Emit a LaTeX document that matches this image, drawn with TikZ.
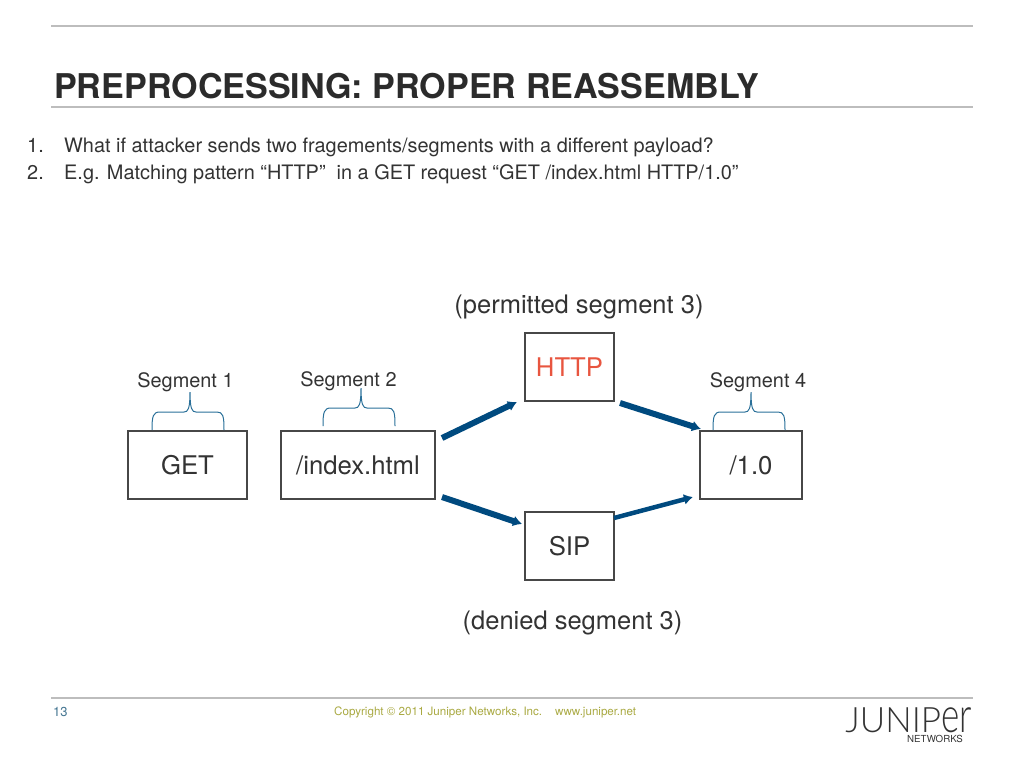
\documentclass[tikz,border=0pt]{standalone}
\usepackage{fontspec}
\setmainfont{TeX Gyre Heros}
\newfontfamily\logofont{Lato Light}
\usetikzlibrary{arrows.meta, positioning}
\definecolor{grisTexto}{HTML}{333333}
\definecolor{grisLinea}{HTML}{BDBDBD}
\definecolor{azulFlecha}{HTML}{004A7F}
\definecolor{azulLlave}{HTML}{2A7099}
\definecolor{rojoHttp}{HTML}{E8553F}
\definecolor{olivaPie}{HTML}{A9A942}
\tikzset{
  cajaBase/.style={
    draw=grisTexto!90, line width=1.1pt,
    minimum height=68pt, minimum width=89pt, inner sep=0pt, outer sep=0pt,
    align=center, font=\fontsize{25.7}{30}\selectfont, text=grisTexto
  },
  flecha/.style={-{Latex[length=9pt,width=11pt]}, line width=6pt, azulFlecha},
  regla/.style={draw=grisLinea, line width=1.3pt},
  textoLista/.style={anchor=base west, font=\fontsize{19.9}{24}\selectfont, text=grisTexto, inner sep=0pt},
  etiquetaSeg/.style={anchor=base, font=\fontsize{19.9}{24}\selectfont, text=grisTexto, inner sep=0pt},
  etiquetaGrande/.style={anchor=base, font=\fontsize{25.5}{30}\selectfont, text=grisTexto, inner sep=0pt},
  textoPie/.style={anchor=base west, font=\fontsize{11.6}{14}\selectfont, text=olivaPie, inner sep=0pt},
  pics/llave/.style={code={
    \draw[azulLlave, line width=1pt] (-38,18) .. controls (-38,4) and (-37,0) .. (-30,0)
      -- (-6,0) .. controls (-2,0) and (0,-3) .. (0,-20)
      .. controls (0,-3) and (2,0) .. (6,0) -- (27,0)
      .. controls (33,0) and (34,4) .. (34,18);
  }},
}
\begin{document}
\begin{tikzpicture}[x=1pt, y=-1pt]
    \useasboundingbox (0,0) rectangle (1024,768);
    % reglas
    \coordinate (r1i) at (51,26);   \coordinate (r1d) at (973,26);
    \coordinate (r2i) at (51,107);  \coordinate (r2d) at (973,107);
    \coordinate (r3i) at (51,698);  \coordinate (r3d) at (973,698);
    \draw[regla] (r1i) -- (r1d);
    \draw[regla] (r2i) -- (r2d);
    \draw[regla] (r3i) -- (r3d);
    % titulo y lista
    \node[anchor=base west, inner sep=0pt, text=grisTexto!85!black, font=\fontsize{34.1}{40}\selectfont\bfseries] (titulo) at (54,98) {PREPROCESSING: PROPER REASSEMBLY};
    \node[textoLista] (n1) at (27,152.5) {1.};
    \node[textoLista] (l1) at (64,152.5) {What if attacker sends two fragements/segments with a different payload?};
    \node[textoLista] (n2) at (27,179) {2.};
    \node[textoLista] (l2) at (64,179) {E.g. Matching pattern “HTTP”\ \ in a GET request “GET /index.html HTTP/1.0”};
    % cajas
    \node[cajaBase, minimum width=119pt] (get) at (187.5,465) {GET};
    \node[cajaBase, minimum width=154pt, right=34pt of get] (index) {/index.html};
    \node[cajaBase, text=rojoHttp, above right=30pt and 90pt of index] (http) {HTTP};
    \node[cajaBase, below right=13pt and 90pt of index] (sip) {SIP};
    \node[cajaBase, minimum width=102pt, below right=30pt and 86pt of http] (fin) {/1.0};
    \draw[flecha] ([shift={(7,7)}]index.north east) -- ([shift={(-8,1)}]http.south west);
    \draw[flecha] ([shift={(6,2)}]http.south east) -- ([shift={(1,-2)}]fin.north west);
    \draw[flecha] ([shift={(7,-2)}]index.south east) -- ([shift={(-3,12)}]sip.north west);
    \draw[flecha, line width=4.5pt] ([shift={(0,6)}]sip.north east) -- ([shift={(-7,-2)}]fin.south west);
    % llaves
    \pic at ([shift={(2.5,-19)}]get.north) {llave};
    \pic at ([shift={(3,-23)}]index.north) {llave};
    \pic at ([shift={(0,-19)}]fin.north) {llave};
    \node[etiquetaSeg] (seg1) at (185.5,387) {Segment 1};
    \node[etiquetaSeg] (seg2) at (348.5,386) {Segment 2};
    \node[etiquetaSeg] (seg4) at (758,387) {Segment 4};
    \node[etiquetaGrande] (permitido) at (579,313) {(permitted segment 3)};
    \node[etiquetaGrande] (negado) at (572.5,629) {(denied segment 3)};
    % pie
    \node[anchor=base west, inner sep=0pt, text=azulLlave!70!gray, font=\fontsize{13}{15}\selectfont] (pagina) at (53,716) {13};
    \node[textoPie] (copia) at (334,715) {Copyright © 2011 Juniper Networks, Inc.};
    \node[textoPie] (web) at (555,715) {www.juniper.net};
    \node[anchor=base east, inner sep=0pt, text=black!80, font=\logofont\fontsize{35}{40}\selectfont] (logo) at (972,732) {JUNIP\scalebox{1}[1.4]{er}};
    \node[anchor=base east, inner sep=0pt, text=grisTexto, font=\fontsize{9.7}{11}\selectfont] (redes) at (963,742) {NETWORKS};
\end{tikzpicture}
\end{document}
